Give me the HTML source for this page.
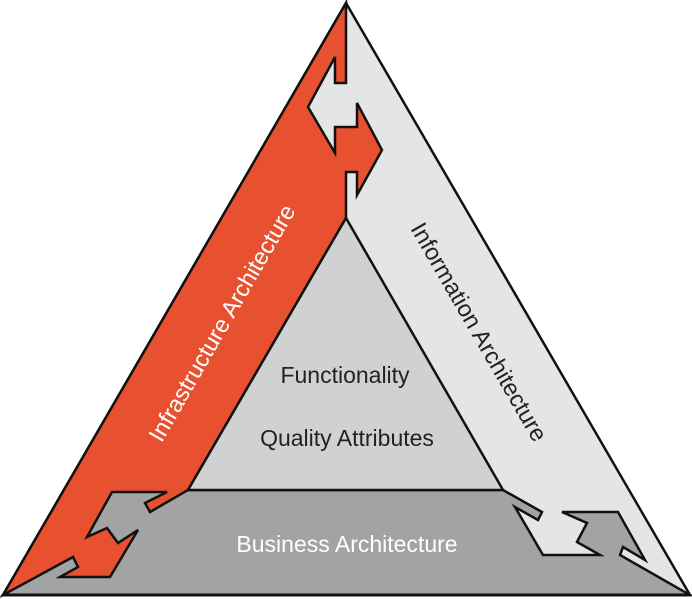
<!DOCTYPE html>
<html><head><style>html,body{margin:0;padding:0;background:#fff;}svg{display:block}</style></head>
<body>
<svg width="692" height="599" viewBox="0 0 692 599" xmlns="http://www.w3.org/2000/svg" font-family="Liberation Sans, sans-serif">
<polygon points="346,3 690,595 3,595" fill="#e4e5e7" stroke="#111" stroke-width="2.5" stroke-linejoin="miter"/>
<polygon points="100,490 503,490 542,512 538,520 515,507 543,555 600,555 577,542 587,523 562,512 618,512 645,560 623,547 620,555 690,595 3,595" fill="#a2a3a5" stroke="#111" stroke-width="2.5"/>
<polygon points="3,595 346,3 346,83 335,83 335,57 308,107 335,153 335,127 357,127 357,103 382,150 357,195 357,172 346,172 346,218 188,490 150,512 145,503 167,492 112,492 87,537 107,528 118,543 138,530 110,577 60,577 78,567 73,557 3,595" fill="#e8512f" stroke="#111" stroke-width="2.5"/>
<polygon points="346,218 188,490 503,490" fill="#d0d1d3" stroke="#111" stroke-width="2.5"/>
<line x1="3" y1="595" x2="690" y2="595" stroke="#111" stroke-width="3"/>
<text x="222" y="331" fill="#fff" font-size="23.5" text-anchor="middle" transform="rotate(-60 222 323)">Infrastructure Architecture</text>
<text x="479" y="340" fill="#222" font-size="23.5" text-anchor="middle" transform="rotate(60 479 332)">Information Architecture</text>
<text x="345" y="383" fill="#222" font-size="23" text-anchor="middle">Functionality</text>
<text x="347" y="446" fill="#222" font-size="23" text-anchor="middle">Quality Attributes</text>
<text x="347" y="552" fill="#fff" font-size="23" text-anchor="middle">Business Architecture</text>
</svg>
</body></html>
